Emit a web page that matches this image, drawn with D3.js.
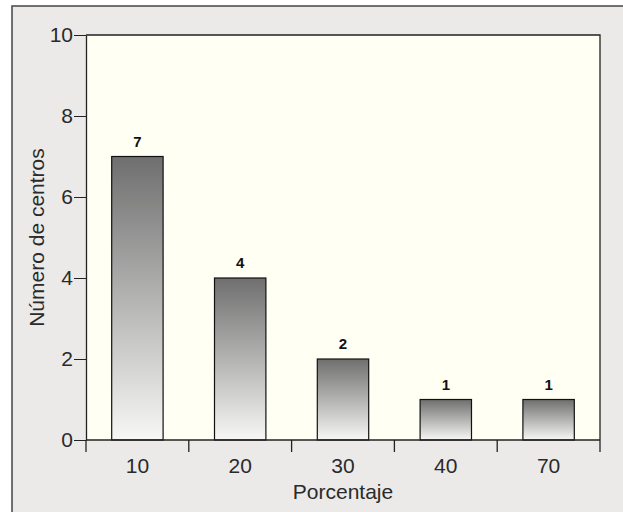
<!DOCTYPE html>
<html><head><meta charset="utf-8">
<script src="https://cdn.jsdelivr.net/npm/d3@7"></script>
<style>body{margin:0;background:#fff;} text{font-family:"Liberation Sans",Arial,sans-serif;}</style>
</head><body>
<svg id="c" width="623" height="512"></svg>
<script>
const categories = ["10","20","30","40","70"];
const values = [7,4,2,1,1];
const yTicks = [0,2,4,6,8,10];

const svg = d3.select("#c");
const L=86, R=600, T=35, B=440;

svg.append("rect").attr("x",12).attr("y",6).attr("width",640).attr("height",540)
  .attr("fill","#ebeae8").attr("stroke","#444").attr("stroke-width",1.5);
svg.append("rect").attr("x",L).attr("y",T).attr("width",R-L).attr("height",B-T)
  .attr("fill","#fffff3");

const defs = svg.append("defs");
const g = defs.append("linearGradient").attr("id","bg").attr("x1",0).attr("y1",0).attr("x2",0).attr("y2",1);
g.append("stop").attr("offset","0%").attr("stop-color","#6f6f6f");
g.append("stop").attr("offset","100%").attr("stop-color","#f7f7f5");

const x = d3.scaleBand().domain(categories).range([L,R]).paddingInner(0.5).paddingOuter(0.25);
const y = d3.scaleLinear().domain([0,10]).range([B,T]);
const step = x.step();

svg.selectAll("rect.bar").data(values).join("rect").attr("class","bar")
  .attr("x",(d,i)=>x(categories[i])).attr("width",x.bandwidth())
  .attr("y",d=>y(d)).attr("height",d=>y(0)-y(d))
  .attr("fill","url(#bg)").attr("stroke","#111").attr("stroke-width",1.2);

svg.selectAll("text.vl").data(values).join("text").attr("class","vl")
  .attr("x",(d,i)=>x(categories[i])+x.bandwidth()/2).attr("y",d=>y(d)-10)
  .attr("text-anchor","middle").attr("font-size",15).attr("font-weight","bold").attr("fill","#111")
  .text(d=>d);

// top & right borders
svg.append("path").attr("d",`M${L},${T}H${R}V${B}`).attr("fill","none").attr("stroke","#222").attr("stroke-width",1.3);

// y axis
const ya = svg.append("g").attr("transform",`translate(${L},0)`)
  .call(d3.axisLeft(y).tickValues(yTicks).tickSize(12).tickPadding(1).tickSizeOuter(0));
ya.select(".domain").attr("stroke","#222").attr("stroke-width",1.3);
ya.selectAll("line").attr("stroke","#222");
ya.selectAll("text").attr("font-size",21).attr("fill","#2a2a2a");

// x axis
const xa = svg.append("g").attr("transform",`translate(0,${B})`);
xa.append("line").attr("x1",L).attr("x2",R).attr("stroke","#222").attr("stroke-width",1.3);
const bounds = categories.map(c=>x(c)-step*0.25).concat([R]);
xa.selectAll("line.tk").data(bounds).join("line").attr("class","tk")
  .attr("x1",d=>d).attr("x2",d=>d).attr("y1",0).attr("y2",12).attr("stroke","#222").attr("stroke-width",1.3);
xa.selectAll("text").data(categories).join("text")
  .attr("x",c=>x(c)+x.bandwidth()/2).attr("y",33).attr("text-anchor","middle")
  .attr("font-size",21).attr("fill","#2a2a2a").text(c=>c);

svg.append("text").attr("x",(L+R)/2).attr("y",499).attr("text-anchor","middle")
  .attr("font-size",21).attr("fill","#2a2a2a").text("Porcentaje");
svg.append("text").attr("transform",`translate(44,${(T+B)/2}) rotate(-90)`).attr("text-anchor","middle")
  .attr("font-size",21).attr("fill","#2a2a2a").text("Número de centros");
</script>
</body></html>
